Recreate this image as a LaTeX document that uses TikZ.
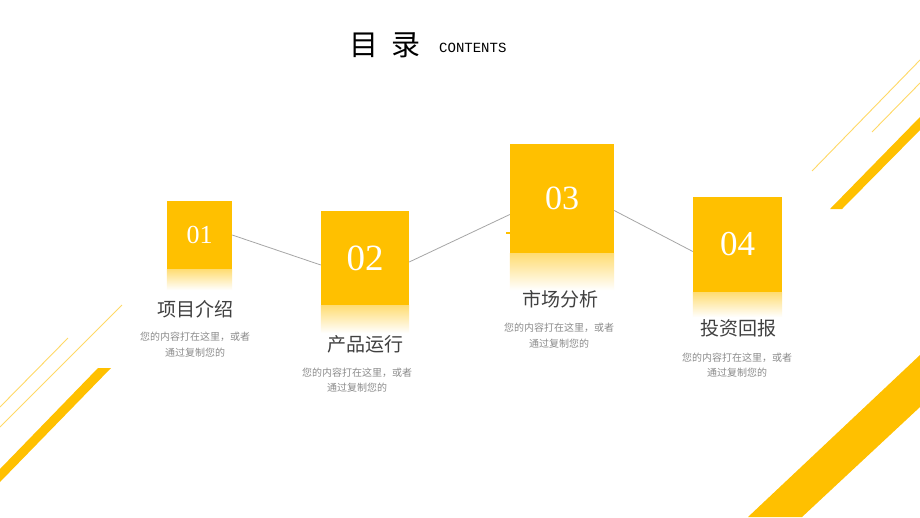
\documentclass[tikz,border=0pt]{standalone}
\usepackage{fontspec}
\setmainfont{Liberation Serif}
\setmonofont{Liberation Mono}
\newfontfamily\cjk{Noto Sans CJK SC}
\usetikzlibrary{calc}
\definecolor{gold}{HTML}{FFC000}
\definecolor{lightgold}{HTML}{FFD966}
\definecolor{darktext}{HTML}{404040}
\definecolor{greytext}{HTML}{8C8C8C}
\definecolor{linkgrey}{HTML}{A6A6A6}
\tikzset{
	numbox/.style={fill=gold, text=white, inner sep=0pt},
	fade/.style={top color=gold!55, bottom color=white},
	head/.style={text=darktext, inner sep=0pt, font=\cjk\fontsize{19}{19}\selectfont},
	note/.style={text=greytext, align=center, inner sep=0pt, font=\cjk\fontsize{10}{15.5}\selectfont},
	link/.style={draw=linkgrey, line width=0.8pt},
	deco/.style={draw=lightgold, line width=0.9pt},
}

\begin{document}
\begin{tikzpicture}[x=1pt, y=-1pt]
		\useasboundingbox[fill=white] (0,0) rectangle (920,517);
		\node[text=black, inner sep=0pt, font=\cjk\fontsize{29}{29}\selectfont] (ttl) at (385,45) {目\hspace{14pt}录};
		\node[anchor=west, inner sep=0pt, font=\ttfamily\fontsize{14}{14}\selectfont] (ttlen) at (439,48) {CONTENTS};
		\fill[gold] (830,209) -- (842,209) -- (920,130) -- (920,117) -- cycle;
		\draw[deco] (812,171) -- (920,60);
		\draw[deco] (872,132) -- (920,83);
		\fill[gold] (98,368) -- (111,368) -- (0,482) -- (0,469) -- cycle;
		\draw[deco] (0,407) -- (68,338);
		\draw[deco] (0,427) -- (122,305);
		\fill[gold] (748,517) -- (802,517) -- (920,407) -- (920,355) -- cycle;
		\node[numbox, minimum width=65pt, minimum height=68pt, font=\fontsize{26}{26}\selectfont] (b1) at (199.5,235) {01};
		\node[numbox, minimum width=88pt, minimum height=94pt, font=\fontsize{37}{37}\selectfont] (b2) at (365,258) {02};
		\node[numbox, minimum width=104pt, minimum height=109pt, font=\fontsize{34}{34}\selectfont] (b3) at (562,198.5) {03};
		\node[numbox, minimum width=89pt, minimum height=95pt, font=\fontsize{35}{35}\selectfont] (b4) at (737.5,244.5) {04};
		\shade[fade] (b1.south west) rectangle ($(b1.south east)+(0,21)$);
		\shade[fade] (b2.south west) rectangle ($(b2.south east)+(0,28)$);
		\shade[fade] (b3.south west) rectangle ($(b3.south east)+(0,37)$);
		\shade[fade] (b4.south west) rectangle ($(b4.south east)+(0,25)$);
		\draw[link] (b1.east) -- ($(b2.west)+(0,7)$);
		\draw[link] ($(b2.east)+(0,4)$) -- ($(b3.west)+(0,16)$);
		\draw[link] ($(b3.east)+(0,12)$) -- ($(b4.west)+(0,7)$);
		\draw[gold, line width=2pt] (506,233) -- (b3.west |- 0,233);
		\node[head] (h1) at (195,309) {项目介绍};
		\node[head] (h2) at (365,344) {产品运行};
		\node[head] (h3) at (560,299) {市场分析};
		\node[head] (h4) at (738,328) {投资回报};
		\node[note] (n1) at (195,344.5) {您的内容打在这里，或者\\通过复制您的};
		\node[note] (n2) at (357,380) {您的内容打在这里，或者\\通过复制您的};
		\node[note] (n3) at (559,335.5) {您的内容打在这里，或者\\通过复制您的};
		\node[note] (n4) at (737,365) {您的内容打在这里，或者\\通过复制您的};
	\end{tikzpicture}
\end{document}
